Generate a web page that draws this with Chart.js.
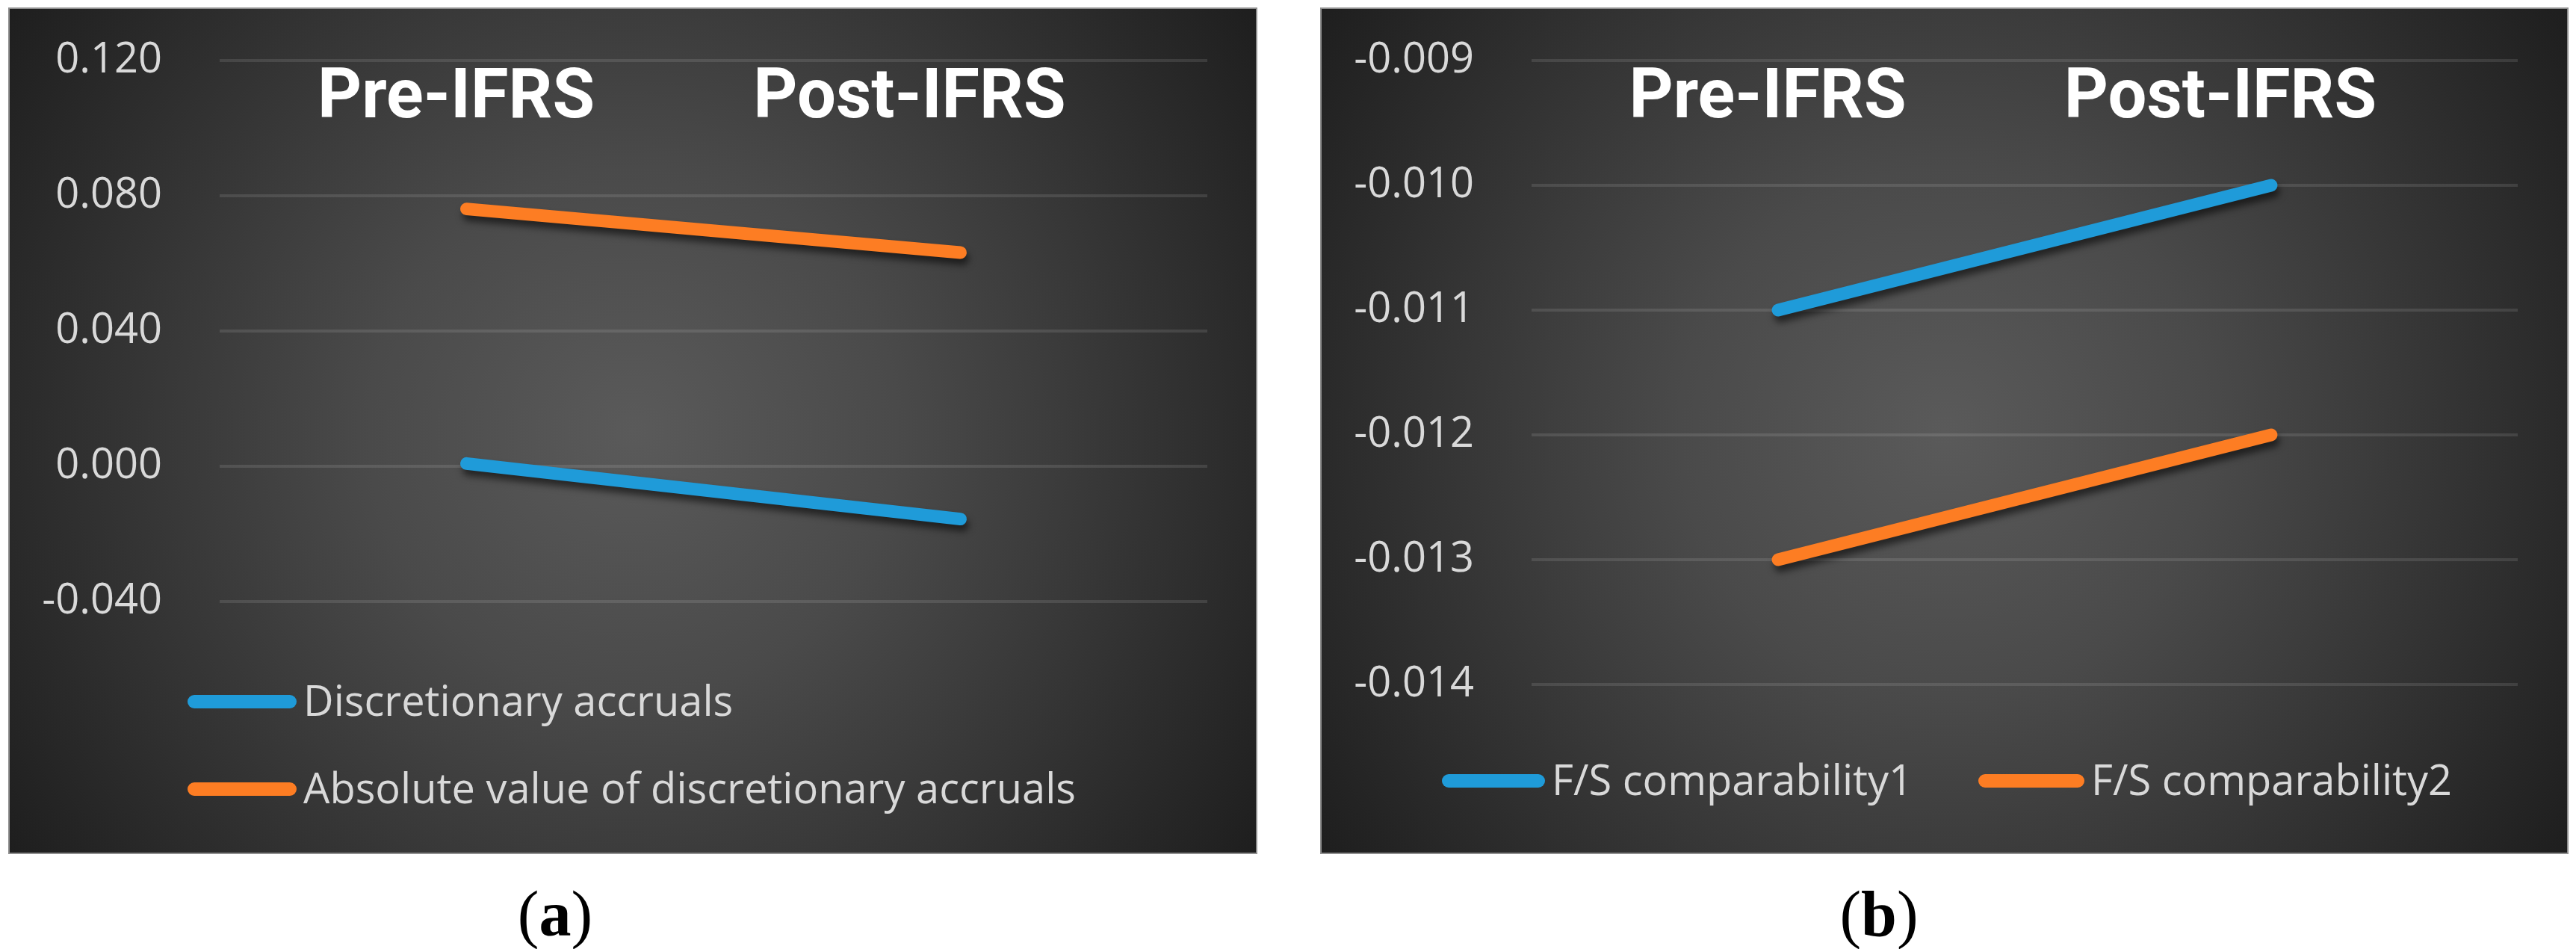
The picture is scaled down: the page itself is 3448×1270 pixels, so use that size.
<!DOCTYPE html>
<html>
<head>
<meta charset="utf-8">
<script src="https://cdn.jsdelivr.net/npm/chart.js@4.4.1/dist/chart.umd.min.js"></script>
<style>
  body { margin: 0; background: #fff; width: 3448px; height: 1270px; position: relative; overflow: hidden; }
  canvas { position: absolute; top: 10px; }
  #chartA { left: 11px; }
  #chartB { left: 1767px; }
  .cap { position: absolute; top: 1180px; width: 200px; font-family: "Liberation Serif", "DejaVu Serif", serif;
         font-size: 86px; line-height: 1; text-align: center; color: #000; }
</style>
</head>
<body>
<canvas id="chartA" width="1672" height="1133"></canvas>
<canvas id="chartB" width="1671" height="1133"></canvas>
<div class="cap" style="left:643px">(<b>a</b>)</div>
<div class="cap" style="left:2415px">(<b>b</b>)</div>
<script>
/* ---------- DATA ---------- */
const categories = ["Pre-IFRS", "Post-IFRS"];
const discretionaryAccruals = [0.0008, -0.0156];
const absDiscretionaryAccruals = [0.0761, 0.0632];
const comparability1 = [-0.011, -0.010];
const comparability2 = [-0.013, -0.012];
const ticksA = [-0.04, 0.0, 0.04, 0.08, 0.12];
const ticksB = [-0.014, -0.013, -0.012, -0.011, -0.010, -0.009];

const BLUE = "#1f9bd9";
const ORANGE = "#fd7d23";

Chart.defaults.font.family = "'Open Sans', sans-serif";

/* ---------- PLUGINS ---------- */
const panelBackground = {
  id: "panelBackground",
  beforeDraw(chart) {
    const { ctx, width, height } = chart;
    const g = ctx.createRadialGradient(width / 2, height / 2, 0, width / 2, height / 2, Math.hypot(width, height) / 2);
    g.addColorStop(0, "#5a5a5a");
    g.addColorStop(0.35, "#4a4a4a");
    g.addColorStop(1, "#1e1e1e");
    ctx.save();
    ctx.fillStyle = g;
    ctx.fillRect(0, 0, width, height);
    ctx.strokeStyle = "#8f8f8f";
    ctx.lineWidth = 2;
    ctx.strokeRect(1, 1, width - 2, height - 2);
    ctx.restore();
  }
};

const lineShadow = {
  id: "lineShadow",
  beforeDatasetsDraw(chart) {
    const c = chart.ctx;
    c.save();
    c.shadowColor = "rgba(0,0,0,0.55)";
    c.shadowBlur = 10;
    c.shadowOffsetX = 3;
    c.shadowOffsetY = 8;
  },
  afterDatasetsDraw(chart) {
    chart.ctx.restore();
  }
};

const categoryLabels = {
  id: "categoryLabels",
  afterDraw(chart, args, opts) {
    const { ctx } = chart;
    const x = chart.scales.x;
    ctx.save();
    ctx.font = "bold 92px Roboto";
    ctx.fillStyle = "#ffffff";
    ctx.textAlign = "center";
    ctx.textBaseline = "alphabetic";
    chart.data.labels.forEach((lab, i) => {
      ctx.fillText(lab, x.getPixelForValue(i) + opts.shift[i], opts.baseline);
    });
    ctx.restore();
  }
};

const lineLegend = {
  id: "lineLegend",
  afterDraw(chart, args, opts) {
    const { ctx } = chart;
    ctx.save();
    ctx.font = "56px 'Open Sans'";
    ctx.fillStyle = "#d9d9d9";
    ctx.textBaseline = "alphabetic";
    chart.data.datasets.forEach((ds, i) => {
      const p = opts.items[i];
      ctx.strokeStyle = ds.borderColor;
      ctx.lineWidth = 18;
      ctx.lineCap = "round";
      ctx.beginPath();
      ctx.moveTo(p.x + 9, p.y);
      ctx.lineTo(p.x + p.len - 9, p.y);
      ctx.stroke();
      ctx.fillText(ds.label, p.x + p.len + 9, p.y + 19);
    });
    ctx.restore();
  }
};

/* ---------- CHART BUILDER ---------- */
function makeChart(id, sets, ticks, chartLeft, padding, legendItems) {
  return new Chart(document.getElementById(id), {
    type: "line",
    data: {
      labels: categories,
      datasets: sets.map(s => ({
        label: s.label,
        data: s.data,
        borderColor: s.color,
        backgroundColor: s.color,
        borderWidth: 17,
        borderCapStyle: "round",
        pointRadius: 0,
        clip: false
      }))
    },
    options: {
      responsive: false,
      animation: false,
      devicePixelRatio: 1,
      layout: { padding },
      scales: {
        x: { type: "category", offset: true, display: false },
        y: {
          min: ticks[0],
          max: ticks[ticks.length - 1],
          afterBuildTicks: s => { s.ticks = ticks.map(v => ({ value: v })); },
          afterFit: s => {
            s.width = chartLeft - padding.left;
            s.paddingTop = 0;
            s.paddingBottom = 0;
          },
          border: { display: false },
          grid: { color: "rgba(255,255,255,0.11)", lineWidth: 4, drawTicks: false },
          ticks: { color: "#d9d9d9", padding: 77, font: { size: 56 }, callback: v => v.toFixed(3) }
        }
      },
      plugins: {
        legend: { display: false },
        tooltip: { enabled: false },
        categoryLabels: { shift: [-14, -68], baseline: 147 },
        lineLegend: { items: legendItems }
      }
    },
    plugins: [panelBackground, lineShadow, categoryLabels, lineLegend]
  });
}

makeChart("chartA",
  [
    { label: "Discretionary accruals", data: discretionaryAccruals, color: BLUE },
    { label: "Absolute value of discretionary accruals", data: absDiscretionaryAccruals, color: ORANGE }
  ],
  ticksA, 283, { left: 8, right: 67, top: 71, bottom: 338 },
  [{ x: 240, y: 929, len: 146 }, { x: 240, y: 1046, len: 146 }]
);

makeChart("chartB",
  [
    { label: "F/S comparability1", data: comparability1, color: BLUE },
    { label: "F/S comparability2", data: comparability2, color: ORANGE }
  ],
  ticksB, 283, { left: 8, right: 68, top: 71, bottom: 227 },
  [{ x: 163, y: 1035, len: 138 }, { x: 881, y: 1035, len: 142 }]
);
</script>
</body>
</html>
